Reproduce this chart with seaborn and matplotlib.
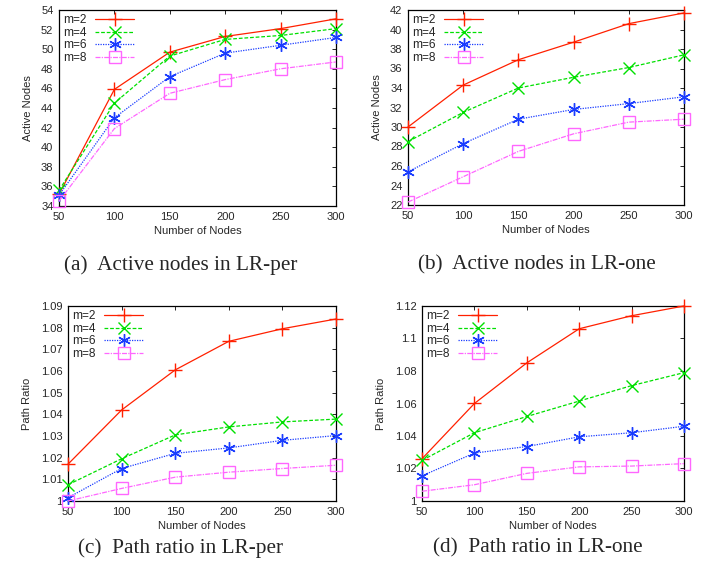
import matplotlib
matplotlib.use("Agg")
import matplotlib.pyplot as plt
import seaborn as sns
import numpy as np

# x values shared by all panels
nodes = [50, 100, 150, 200, 250, 300]
series_names = ["m=2", "m=4", "m=6", "m=8"]

# (a) Active nodes in LR-per
active_per = {
    "m=2": [35.2, 45.9, 49.7, 51.3, 52.1, 53.1],
    "m=4": [35.6, 44.5, 49.3, 51.0, 51.4, 52.1],
    "m=6": [35.1, 43.0, 47.2, 49.6, 50.4, 51.2],
    "m=8": [34.5, 41.9, 45.5, 46.9, 48.0, 48.7],
}
# (b) Active nodes in LR-one
active_one = {
    "m=2": [30.0, 34.3, 36.9, 38.7, 40.6, 41.7],
    "m=4": [28.5, 31.5, 34.0, 35.1, 36.1, 37.4],
    "m=6": [25.4, 28.3, 30.8, 31.8, 32.4, 33.1],
    "m=8": [22.3, 24.9, 27.5, 29.3, 30.5, 30.8],
}
# (c) Path ratio in LR-per
ratio_per = {
    "m=2": [1.017, 1.042, 1.0605, 1.0737, 1.0795, 1.084],
    "m=4": [1.0075, 1.0195, 1.0305, 1.0342, 1.0365, 1.0378],
    "m=6": [1.0015, 1.015, 1.022, 1.0245, 1.028, 1.0302],
    "m=8": [1.0, 1.0058, 1.011, 1.0133, 1.015, 1.0165],
}
# (d) Path ratio in LR-one
ratio_one = {
    "m=2": [1.026, 1.060, 1.085, 1.106, 1.114, 1.120],
    "m=4": [1.025, 1.042, 1.052, 1.0615, 1.071, 1.079],
    "m=6": [1.0155, 1.0295, 1.0335, 1.0395, 1.042, 1.046],
    "m=8": [1.006, 1.010, 1.017, 1.021, 1.0215, 1.023],
}

colors = {"m=2": "#ff2000", "m=4": "#00e000", "m=6": "#1a3cff", "m=8": "#ff66ff"}
markers = {"m=2": "+", "m=4": "x", "m=6": (6, 2, 0), "m=8": "s"}
styles = {"m=2": "-", "m=4": (0, (3, 1.5)), "m=6": (0, (1, 1)), "m=8": (0, (4, 1, 1, 1))}
msizes = {"m=2": 10, "m=4": 9, "m=6": 9, "m=8": 9}

sns.set_style("white")
plt.rcParams['font.family'] = ['Liberation Sans', 'DejaVu Sans']
plt.rcParams['font.size'] = 8

W, H = 708, 574
fig = plt.figure(figsize=(W / 100, H / 100), dpi=100)


def px_axes(left, top, right, bottom):
    return fig.add_axes([left / W, 1 - bottom / H, (right - left) / W, (bottom - top) / H])


def draw_panel(ax, data, ylim, yticks, yfmt, ylabel):
    for name in series_names:
        sns.lineplot(x=nodes, y=data[name], ax=ax, color=colors[name],
                     linestyle=styles[name], linewidth=0.9, marker=markers[name],
                     markersize=msizes[name], markeredgecolor=colors[name],
                     markerfacecolor="none", markeredgewidth=1.0, label=name,
                     clip_on=False, zorder=3)
    ax.set_xlim(50, 300)
    ax.set_ylim(*ylim)
    ax.set_xticks(nodes)
    ax.set_yticks(yticks)
    ax.set_yticklabels([yfmt(v) for v in yticks])
    ax.tick_params(direction="in", top=True, right=True, length=3,
                   labelsize=8, pad=4, width=0.7)
    for s in ax.spines.values():
        s.set_linewidth(0.9)
        s.set_color("black")
        s.set_zorder(2)
    ax.set_xlabel("Number of Nodes", fontsize=8, labelpad=3)
    ax.set_ylabel(ylabel, fontsize=8, labelpad=6)
    ax.legend(loc="upper left", frameon=False, markerfirst=False,
              handlelength=3.3, fontsize=8.6, borderaxespad=0.15,
              borderpad=0.2, labelspacing=0.05, handletextpad=0.7)


def fmt_int(v):
    return f"{v:.0f}"


def fmt_ratio(v):
    s = f"{v:.2f}".rstrip("0").rstrip(".")
    return s


ax_a = px_axes(59, 10, 336, 206)
draw_panel(ax_a, active_per, (34, 54), list(range(34, 55, 2)), fmt_int, "Active Nodes")
ax_b = px_axes(408, 10, 684, 205)
draw_panel(ax_b, active_one, (22, 42), list(range(22, 43, 2)), fmt_int, "Active Nodes")
ax_c = px_axes(68, 306, 336, 501)
draw_panel(ax_c, ratio_per, (1.0, 1.09), list(np.round(np.arange(1.0, 1.0901, 0.01), 2)),
           fmt_ratio, "Path Ratio")
ax_d = px_axes(422, 306, 684, 501)
draw_panel(ax_d, ratio_one, (1.0, 1.12), list(np.round(np.arange(1.0, 1.1201, 0.02), 2)),
           fmt_ratio, "Path Ratio")

# captions
cap_font = dict(family=['Liberation Serif', 'DejaVu Serif'], fontsize=15.3, ha="center", va="center")
fig.text(181 / W, 1 - 265 / H, "(a)  Active nodes in LR-per", **cap_font)
fig.text(537 / W, 1 - 265 / H, "(b)  Active nodes in LR-one", **cap_font)
fig.text(180 / W, 1 - 548 / H, "(c)  Path ratio in LR-per", **cap_font)
fig.text(538 / W, 1 - 548 / H, "(d)  Path ratio in LR-one", **cap_font)

fig.savefig("out.png", dpi=100)
